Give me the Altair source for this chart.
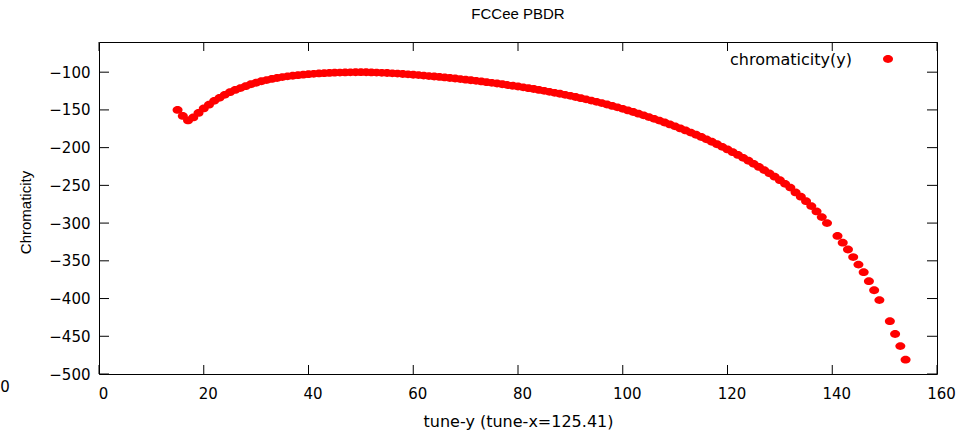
import altair as alt
import pandas as pd

# ---- data ----
tune_y = list(range(15, 140)) + list(range(141, 150)) + list(range(151, 155))
chroma_y = [
    -150, -158, -164, -160, -154, -148, -143, -138, -134, -130,
    -126.5, -123.5, -121, -118.5, -116, -114, -112, -110.5, -109, -107.7,
    -106.5, -105.5, -104.7, -104, -103.3, -102.7, -102.2, -101.7, -101.3, -101,
    -100.7, -100.5, -100.3, -100.2, -100.1, -100, -100.1, -100.3, -100.5, -100.8,
    -101.1, -101.5, -101.9, -102.4, -102.9, -103.4, -103.9, -104.5, -105.1, -105.7,
    -106.3, -107, -107.7, -108.4, -109.1, -109.9, -110.7, -111.5, -112.3, -113.2,
    -114.1, -115, -116, -117, -118, -119, -120.1, -121.2, -122.3, -123.5,
    -124.7, -126, -127.3, -128.6, -130, -131.4, -132.9, -134.4, -136, -137.6,
    -139.3, -141, -142.8, -144.7, -146.6, -148.6, -150.7, -152.8, -155, -157.2,
    -159.5, -161.8, -164.2, -166.7, -169.2, -171.8, -174.5, -177.2, -180, -182.9,
    -185.9, -189, -192.2, -195.5, -198.9, -202.4, -206, -209.7, -213.5, -217.4,
    -221.4, -225.5, -229.7, -234, -238.5, -243.1, -247.9, -252.9, -259.3, -265,
    -271, -277.5, -284.5, -292, -300,
    -317, -326, -335, -345, -355, -365, -377, -389, -402,
    -430, -447, -463, -481,
]
x_ticks = [0, 20, 40, 60, 80, 100, 120, 140, 160]
y_ticks = [-500, -450, -400, -350, -300, -250, -200, -150, -100]
x_domain = [0, 160]
y_domain = [-500, -60]
series_label = ["chromaticity(y)"]
stray_label = ["0"]

W, H = 838, 332
TICK = "DejaVu Sans"
TITLEF = "Liberation Sans"
RED = "#ff0000"
DOT = 100
ELLIPSE = "M -1 0 A 1 0.78 0 1 0 1 0 A 1 0.78 0 1 0 -1 0 Z"

df = pd.DataFrame({"x": tune_y, "y": chroma_y})
dxt = pd.DataFrame({"x": x_ticks})
dyt = pd.DataFrame({"y": y_ticks})
dleg = pd.DataFrame({"label": series_label})
dstray = pd.DataFrame({"label": stray_label})

xs = alt.Scale(domain=x_domain, nice=False, zero=False)
ys = alt.Scale(domain=y_domain, nice=False, zero=False)

x_axis = alt.Axis(
    values=x_ticks, title="tune-y (tune-x=125.41)", grid=False, ticks=False,
    domain=False, labelFont=TICK, labelFontSize=15, labelColor="#000",
    labelPadding=12, labelOffset=4, titleFont=TICK, titleFontSize=16,
    titleFontWeight="normal", titleColor="#000", titleX=419, titleY=47,
    titleBaseline="middle", titleAlign="center", labelFlush=False)
y_axis = alt.Axis(
    values=y_ticks, title="Chromaticity", grid=False, ticks=False,
    domain=False, labelFont=TICK, labelFontSize=15, labelColor="#000",
    labelPadding=9, titleFont=TITLEF, titleFontSize=15, titleFontWeight="normal",
    titleColor="#000", titleX=-74, titleY=170, titleBaseline="middle",
    titleAlign="center", titleAngle=270, labelFlush=False)

points = alt.Chart(df).mark_point(
    shape=ELLIPSE, size=DOT, color=RED, filled=True, opacity=1, strokeWidth=0
).encode(
    x=alt.X("x:Q", scale=xs, axis=x_axis),
    y=alt.Y("y:Q", scale=ys, axis=y_axis),
)

tick_bottom = alt.Chart(dxt).mark_rule(color="#000", strokeWidth=1).encode(
    x=alt.X("x:Q", scale=xs, axis=x_axis), y=alt.value(H - 9), y2=alt.value(H))
tick_top = alt.Chart(dxt).mark_rule(color="#000", strokeWidth=1).encode(
    x=alt.X("x:Q", scale=xs, axis=x_axis), y=alt.value(0), y2=alt.value(9))
tick_left = alt.Chart(dyt).mark_rule(color="#000", strokeWidth=1).encode(
    y=alt.Y("y:Q", scale=ys, axis=y_axis), x=alt.value(0), x2=alt.value(10))
tick_right = alt.Chart(dyt).mark_rule(color="#000", strokeWidth=1).encode(
    y=alt.Y("y:Q", scale=ys, axis=y_axis), x=alt.value(W - 10), x2=alt.value(W))

leg_text = alt.Chart(dleg).mark_text(
    font=TICK, fontSize=16, color="#000", align="right", baseline="middle"
).encode(text="label:N", x=alt.value(753), y=alt.value(18))
leg_dot = alt.Chart(dleg).mark_point(
    shape=ELLIPSE, size=DOT, color=RED, filled=True, opacity=1, strokeWidth=0
).encode(x=alt.value(789), y=alt.value(17))

stray = alt.Chart(dstray).mark_text(
    font=TICK, fontSize=15, color="#000", align="center", baseline="middle"
).encode(text="label:N", x=alt.value(-94), y=alt.value(345))

chart = alt.layer(
    points, tick_bottom, tick_top, tick_left, tick_right, leg_text, leg_dot, stray
).properties(
    width=W, height=H,
    title=alt.TitleParams("FCCee PBDR", font=TITLEF, fontSize=15,
                          fontWeight="normal", color="#000", anchor="middle",
                          offset=20),
    autosize=alt.AutoSizeParams(type="none"),
    padding={"left": 99, "top": 42, "right": 20, "bottom": 59},
    background="white",
).configure_view(stroke="#000", strokeWidth=1)

chart.save("out.html", embed_options={"renderer": "svg", "actions": False})
